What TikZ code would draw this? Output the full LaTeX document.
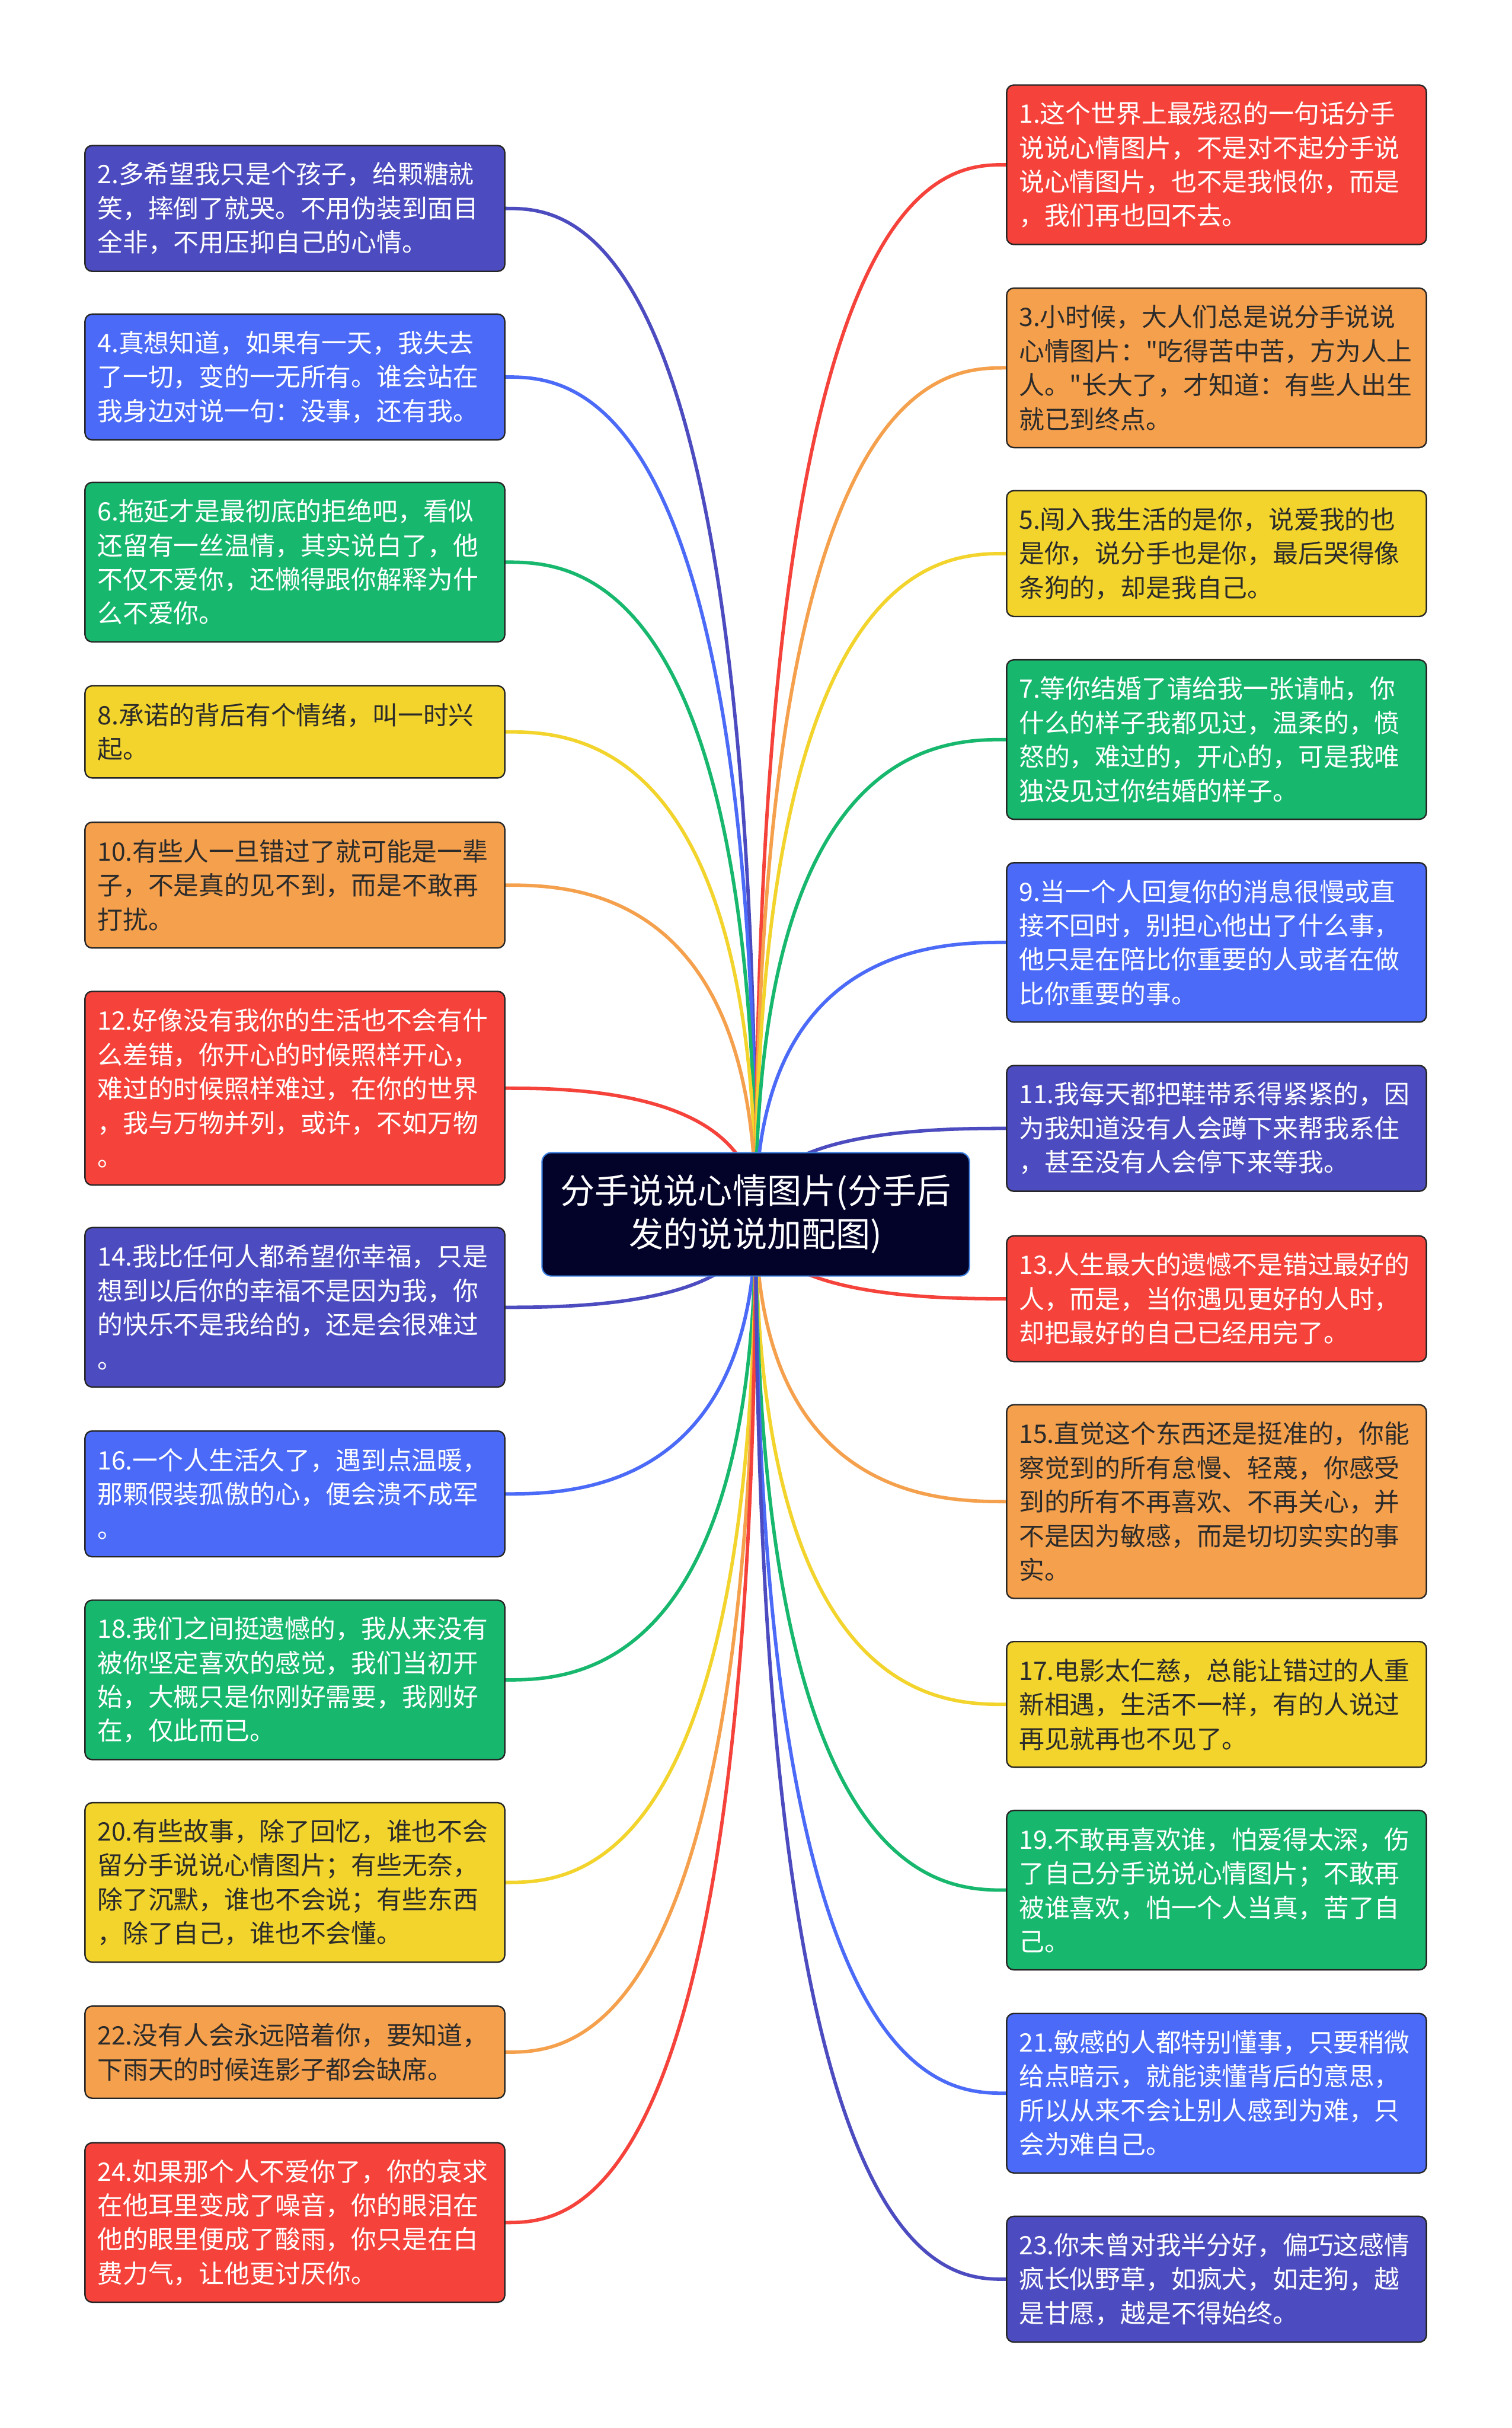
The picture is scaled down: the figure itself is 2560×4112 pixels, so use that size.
\documentclass[tikz,border=0pt]{standalone}
\usepackage{fontspec}
\usetikzlibrary{calc}
\newfontfamily\cjk{Noto Sans CJK SC}
\definecolor{cP}{HTML}{4C4CC0}
\definecolor{cB}{HTML}{4A6AF7}
\definecolor{cG}{HTML}{17B86E}
\definecolor{cY}{HTML}{F2D42C}
\definecolor{cO}{HTML}{F5A04C}
\definecolor{cR}{HTML}{F5433B}
\definecolor{cRoot}{HTML}{03032A}
\definecolor{cRootLine}{HTML}{3A7FE0}
\definecolor{txtDark}{HTML}{2B2B2B}
\pgfdeclarelayer{bg}
\pgfsetlayers{bg,main}
\tikzset{
  leaf/.style={draw=black!85, line width=0.6pt, rounded corners=3pt, inner sep=0pt,
    text width=167.25pt, minimum width=177.75pt, align=left,
    font=\cjk\fontsize{10.75pt}{14.42pt}\selectfont},
  fP/.style={fill=cP, text=white},
  fB/.style={fill=cB, text=white},
  fG/.style={fill=cG, text=white},
  fY/.style={fill=cY, text=txtDark},
  fO/.style={fill=cO, text=txtDark},
  fR/.style={fill=cR, text=white},
  hTwo/.style={minimum height=39pt},
  hThree/.style={minimum height=53.25pt},
  hFour/.style={minimum height=67.5pt},
  hFive/.style={minimum height=82pt},
  rootbox/.style={draw=cRootLine, line width=0.55pt, fill=cRoot, text=white, rounded corners=4pt,
    minimum width=181pt, minimum height=52.25pt, align=center, inner sep=0pt,
    font=\cjk\fontsize{14.6pt}{18.3pt}\selectfont},
  link/.style={line width=1.45pt}
}
\newcommand\mmconn[2]{\draw[link,#2] (root.center) .. controls (root.center |- #1) and ($(root.center |- #1)!0.75!(#1)$) .. (#1);}
\begin{document}
\begin{tikzpicture}[x=0.25pt,y=-0.25pt]
\useasboundingbox (0,0) rectangle (2560,4112);

\node[rootbox] (root) at (1280,2056.5) {分手说说心情图片(分手后\\发的说说加配图)};

% left column
\node[leaf,fP,hThree] (L2) at (499.5,353) {2.多希望我只是个孩子，给颗糖就\\笑，摔倒了就哭。不用伪装到面目\\全非，不用压抑自己的心情。};
\node[leaf,fB,hThree] (L4) at (499.5,638.5) {4.真想知道，如果有一天，我失去\\了一切，变的一无所有。谁会站在\\我身边对说一句：没事，还有我。};
\node[leaf,fG,hFour] (L6) at (499.5,952) {6.拖延才是最彻底的拒绝吧，看似\\还留有一丝温情，其实说白了，他\\不仅不爱你，还懒得跟你解释为什\\么不爱你。};
\node[leaf,fY,hTwo] (L8) at (499.5,1239.5) {8.承诺的背后有个情绪，叫一时兴\\起。};
\node[leaf,fO,hThree] (L10) at (499.5,1499) {10.有些人一旦错过了就可能是一辈\\子，不是真的见不到，而是不敢再\\打扰。};
\node[leaf,fR,hFive] (L12) at (499.5,1843) {12.好像没有我你的生活也不会有什\\么差错，你开心的时候照样开心，\\难过的时候照样难过，在你的世界\\，我与万物并列，或许，不如万物\\。};
\node[leaf,fP,hFour] (L14) at (499.5,2214) {14.我比任何人都希望你幸福，只是\\想到以后你的幸福不是因为我，你\\的快乐不是我给的，还是会很难过\\。};
\node[leaf,fB,hThree] (L16) at (499.5,2530) {16.一个人生活久了，遇到点温暖，\\那颗假装孤傲的心，便会溃不成军\\。};
\node[leaf,fG,hFour] (L18) at (499.5,2845) {18.我们之间挺遗憾的，我从来没有\\被你坚定喜欢的感觉，我们当初开\\始，大概只是你刚好需要，我刚好\\在，仅此而已。};
\node[leaf,fY,hFour] (L20) at (499.5,3188) {20.有些故事，除了回忆，谁也不会\\留分手说说心情图片；有些无奈，\\除了沉默，谁也不会说；有些东西\\，除了自己，谁也不会懂。};
\node[leaf,fO,hTwo] (L22) at (499.5,3475.5) {22.没有人会永远陪着你，要知道，\\下雨天的时候连影子都会缺席。};
\node[leaf,fR,hFour] (L24) at (499.5,3764) {24.如果那个人不爱你了，你的哀求\\在他耳里变成了噪音，你的眼泪在\\他的眼里便成了酸雨，你只是在白\\费力气，让他更讨厌你。};

% right column
\node[leaf,fR,hFour] (R1) at (2060.5,279) {1.这个世界上最残忍的一句话分手\\说说心情图片，不是对不起分手说\\说心情图片，也不是我恨你，而是\\，我们再也回不去。};
\node[leaf,fO,hFour] (R3) at (2060.5,623) {3.小时候，大人们总是说分手说说\\心情图片："吃得苦中苦，方为人上\\人。"长大了，才知道：有些人出生\\就已到终点。};
\node[leaf,fY,hThree] (R5) at (2060.5,937.5) {5.闯入我生活的是你，说爱我的也\\是你，说分手也是你，最后哭得像\\条狗的，却是我自己。};
\node[leaf,fG,hFour] (R7) at (2060.5,1252.5) {7.等你结婚了请给我一张请帖，你\\什么的样子我都见过，温柔的，愤\\怒的，难过的，开心的，可是我唯\\独没见过你结婚的样子。};
\node[leaf,fB,hFour] (R9) at (2060.5,1596) {9.当一个人回复你的消息很慢或直\\接不回时，别担心他出了什么事，\\他只是在陪比你重要的人或者在做\\比你重要的事。};
\node[leaf,fP,hThree] (R11) at (2060.5,1911) {11.我每天都把鞋带系得紧紧的，因\\为我知道没有人会蹲下来帮我系住\\，甚至没有人会停下来等我。};
\node[leaf,fR,hThree] (R13) at (2060.5,2199.5) {13.人生最大的遗憾不是错过最好的\\人，而是，当你遇见更好的人时，\\却把最好的自己已经用完了。};
\node[leaf,fO,hFive] (R15) at (2060.5,2543) {15.直觉这个东西还是挺准的，你能\\察觉到的所有怠慢、轻蔑，你感受\\到的所有不再喜欢、不再关心，并\\不是因为敏感，而是切切实实的事\\实。};
\node[leaf,fY,hThree] (R17) at (2060.5,2886.5) {17.电影太仁慈，总能让错过的人重\\新相遇，生活不一样，有的人说过\\再见就再也不见了。};
\node[leaf,fG,hFour] (R19) at (2060.5,3201) {19.不敢再喜欢谁，怕爱得太深，伤\\了自己分手说说心情图片；不敢再\\被谁喜欢，怕一个人当真，苦了自\\己。};
\node[leaf,fB,hFour] (R21) at (2060.5,3545) {21.敏感的人都特别懂事，只要稍微\\给点暗示，就能读懂背后的意思，\\所以从来不会让别人感到为难，只\\会为难自己。};
\node[leaf,fP,hThree] (R23) at (2060.5,3860) {23.你未曾对我半分好，偏巧这感情\\疯长似野草，如疯犬，如走狗，越\\是甘愿，越是不得始终。};

\begin{pgfonlayer}{bg}
\fill[white] (0,0) rectangle (2560,4112);
\mmconn{L2.east}{cP}
\mmconn{L4.east}{cB}
\mmconn{L6.east}{cG}
\mmconn{L8.east}{cY}
\mmconn{L10.east}{cO}
\mmconn{L12.east}{cR}
\mmconn{L14.east}{cP}
\mmconn{L16.east}{cB}
\mmconn{L18.east}{cG}
\mmconn{L20.east}{cY}
\mmconn{L22.east}{cO}
\mmconn{L24.east}{cR}
\mmconn{R1.west}{cR}
\mmconn{R3.west}{cO}
\mmconn{R5.west}{cY}
\mmconn{R7.west}{cG}
\mmconn{R9.west}{cB}
\mmconn{R11.west}{cP}
\mmconn{R13.west}{cR}
\mmconn{R15.west}{cO}
\mmconn{R17.west}{cY}
\mmconn{R19.west}{cG}
\mmconn{R21.west}{cB}
\mmconn{R23.west}{cP}
\end{pgfonlayer}
\end{tikzpicture}
\end{document}
